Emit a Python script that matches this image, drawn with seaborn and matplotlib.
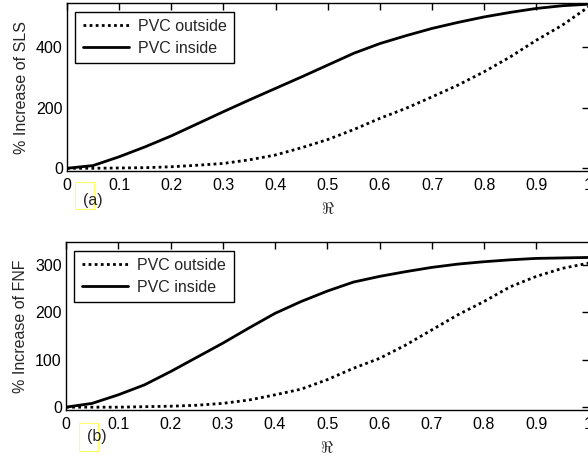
import numpy as np
import pandas as pd
import matplotlib
matplotlib.use('Agg')
import matplotlib.pyplot as plt
import seaborn as sns
from matplotlib.patches import Rectangle

# ==========================
# Datos
# ==========================
r_vals = [0.0, 0.05, 0.1, 0.15, 0.2, 0.25, 0.3, 0.35, 0.4, 0.45, 0.5,
          0.55, 0.6, 0.65, 0.7, 0.75, 0.8, 0.85, 0.9, 0.95, 1.0]

sls_inside = [0, 9, 38, 71, 107, 147, 187, 226, 264, 302, 341,
              380, 412, 438, 462, 482, 500, 515, 528, 537, 542]
sls_outside = [0, 0, 1, 2, 5, 10, 16, 28, 44, 68, 95,
               128, 165, 198, 236, 275, 319, 368, 423, 473, 533]

fnf_inside = [0, 8, 26, 47, 75, 105, 135, 167, 198, 223, 245,
              264, 276, 286, 295, 302, 307, 311, 314, 315, 316]
fnf_outside = [0, 0, 0, 1, 2, 4, 8, 15, 26, 38, 58,
               82, 103, 131, 163, 195, 223, 254, 276, 293, 304]

x_ticks = [0, 0.1, 0.2, 0.3, 0.4, 0.5, 0.6, 0.7, 0.8, 0.9, 1.0]
x_tick_labels = ['0', '0.1', '0.2', '0.3', '0.4', '0.5', '0.6', '0.7', '0.8', '0.9', '1']

sns.set_style('white')
plt.rcParams['font.family'] = ['Liberation Sans', 'DejaVu Sans']
plt.rcParams['mathtext.fontset'] = 'cm'

W, H = 588, 457
FS = 11.5
fig = plt.figure(figsize=(W / 100, H / 100), dpi=100)


def pos(left, top, right, bottom):
    return [left / W, 1 - bottom / H, (right - left) / W, (bottom - top) / H]


def panel(ax, inside, outside, ylabel, ylim, yticks, letter, box, txt):
    df = pd.DataFrame({
        'r': r_vals * 2,
        'val': outside + inside,
        'serie': ['PVC outside'] * len(r_vals) + ['PVC inside'] * len(r_vals)
    })
    sns.lineplot(data=df, x='r', y='val', hue='serie', style='serie',
                 palette=['black', 'black'],
                 dashes={'PVC outside': (1, 1.2), 'PVC inside': ''},
                 linewidth=2, ax=ax)
    ax.set_xlim(0, 1)
    ax.set_ylim(*ylim)
    ax.set_xticks(x_ticks)
    ax.set_xticklabels(x_tick_labels)
    ax.set_yticks(yticks)
    ax.tick_params(direction='in', length=5, width=1, top=True, right=True,
                   labelsize=FS, colors='black')
    ax.tick_params(axis='x', pad=5)
    ax.tick_params(axis='y', pad=3)
    for s in ax.spines.values():
        s.set_visible(True)
        s.set_color('black')
        s.set_linewidth(1)
    ax.set_xlabel(r'$\Re$', fontsize=12, labelpad=6)
    ax.set_ylabel(ylabel, fontsize=FS, labelpad=5)
    leg = ax.legend(loc='upper left', bbox_to_anchor=(0.016, 0.95),
                    borderaxespad=0, fancybox=False, edgecolor='black',
                    framealpha=1, fontsize=FS, handlelength=2.9,
                    handletextpad=0.6, labelspacing=0.45, borderpad=0.45)
    leg.get_frame().set_linewidth(1)
    fig.patches.append(Rectangle((box[0] / W, 1 - box[3] / H),
                                 (box[2] - box[0]) / W, (box[3] - box[1]) / H,
                                 transform=fig.transFigure, fill=False,
                                 edgecolor='#ffff66', linewidth=0.8))
    fig.text(txt[0] / W, 1 - txt[1] / H, letter, fontsize=FS,
             ha='left', va='center')


ax1 = fig.add_axes(pos(67, 3.3, 588.5, 170.7))
panel(ax1, sls_inside, sls_outside, '% Increase of SLS', (-8, 545),
      [0, 200, 400], '(a)', (75, 182, 93.5, 209), (83, 201))

ax2 = fig.add_axes(pos(66, 242.3, 588.5, 410))
panel(ax2, fnf_inside, fnf_outside, '% Increase of FNF', (-6, 348),
      [0, 100, 200, 300], '(b)', (78.5, 423, 97.5, 450.5), (87.5, 436))

fig.savefig('out.png', dpi=100)
